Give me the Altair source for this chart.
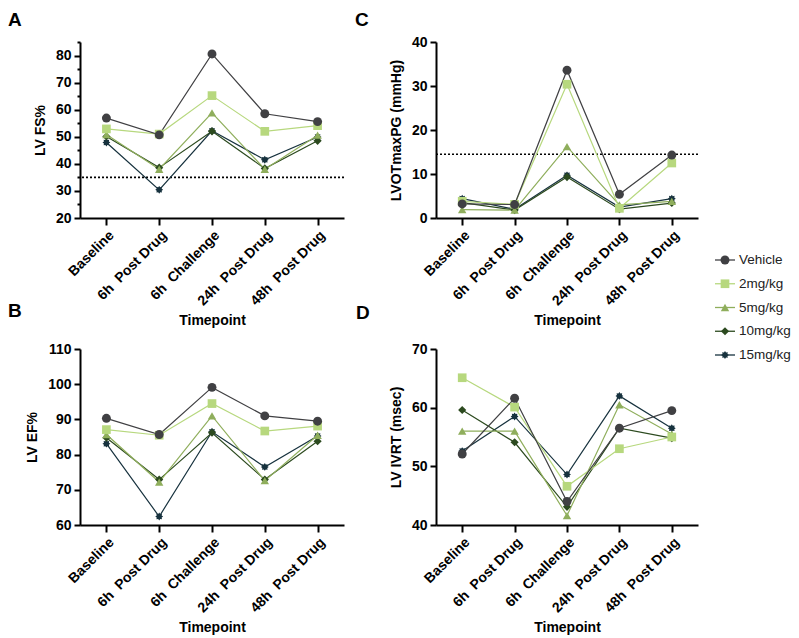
import math
import altair as alt
import pandas as pd

FONT = "Liberation Sans"

timepoints = ["Baseline", "6h\u00a0 Post Drug", "6h\u00a0 Challenge", "24h\u00a0 Post Drug", "48h\u00a0 Post Drug"]
series = ["Vehicle", "2mg/kg", "5mg/kg", "10mg/kg", "15mg/kg"]
colors = ["#404043", "#b7d87e", "#8fae5c", "#2c4a1f", "#17323e"]
marker_sizes = [80, 62, 72, 52, 110]

# Panel A: LV FS%
lv_fs_vehicle = [56.9, 50.7, 80.6, 58.5, 55.6]
lv_fs_2mg = [52.9, 51.0, 65.2, 52.0, 54.1]
lv_fs_5mg = [50.8, 38.0, 58.8, 38.0, 50.6]
lv_fs_10mg = [50.1, 38.6, 52.0, 38.3, 48.5]
lv_fs_15mg = [47.9, 30.4, 52.2, 41.5, 49.9]
lv_fs_threshold = 35

# Panel C: LVOTmaxPG (mmHg)
lvot_vehicle = [3.2, 3.05, 33.6, 5.4, 14.3]
lvot_2mg = [3.8, 3.1, 30.4, 2.2, 12.5]
lvot_5mg = [1.9, 1.8, 16.2, 3.0, 3.8]
lvot_10mg = [3.5, 1.8, 9.3, 2.0, 3.4]
lvot_15mg = [4.4, 2.0, 9.7, 2.5, 4.4]
lvot_threshold = 14.5

# Panel B: LV EF%
lv_ef_vehicle = [90.3, 85.7, 99.1, 91.0, 89.5]
lv_ef_2mg = [87.1, 85.5, 94.5, 86.7, 88.1]
lv_ef_5mg = [85.7, 72.2, 91.0, 72.6, 85.5]
lv_ef_10mg = [84.8, 72.9, 86.2, 72.9, 83.8]
lv_ef_15mg = [83.1, 62.4, 86.5, 76.5, 85.3]

# Panel D: LV IVRT (msec)
ivrt_vehicle = [52.1, 61.6, 44.0, 56.5, 59.5]
ivrt_2mg = [65.1, 60.1, 46.6, 53.0, 55.0]
ivrt_5mg = [56.0, 56.0, 41.6, 60.5, 55.5]
ivrt_10mg = [59.6, 54.1, 43.1, 56.5, 54.8]
ivrt_15mg = [52.6, 58.5, 48.6, 62.0, 56.5]

# 8-point star marker (15mg/kg)
_pts = []
for k in range(16):
    a = math.pi * k / 8 - math.pi / 2
    r = 1.0 if k % 2 == 0 else 0.68
    _pts.append(f"{r * math.cos(a):.3f},{r * math.sin(a):.3f}")
star_path = "M" + "L".join(_pts) + "Z"
shapes = ["circle", "square", "triangle-up", "diamond", star_path]

color_enc = alt.Color("series:N", scale=alt.Scale(domain=series, range=colors), legend=None)
shape_enc = alt.Shape("series:N", scale=alt.Scale(domain=series, range=shapes), legend=None)
size_enc = alt.Size("series:N", scale=alt.Scale(domain=series, range=marker_sizes), legend=None)


def make_panel(vals, ytitle, domain, tick_values, minor, width, label, ldx, ldy,
               threshold=None, legend=False):
    rows = []
    for s, v in reversed(list(zip(series, vals))):
        for t, val in zip(timepoints, v):
            rows.append({"timepoint": t, "series": s, "value": val})
    df = pd.DataFrame(rows)

    if minor:
        axis_y = alt.Axis(
            values=tick_values,
            labelExpr="datum.value % 10 === 0 ? datum.label : ''",
            tickSize={"condition": {"test": "datum.value % 10 === 0", "value": 6}, "value": 3},
            labelPadding=3, titlePadding=8, labelOverlap=False,
        )
    else:
        axis_y = alt.Axis(values=tick_values, tickSize=6, labelPadding=3, titlePadding=8, labelOverlap=False)

    x = alt.X(
        "timepoint:N", sort=timepoints,
        scale=alt.Scale(type="point", domain=timepoints, padding=0.5),
        axis=alt.Axis(title="Timepoint", labelAngle=-45, tickSize=7, labelPadding=3, titlePadding=6),
    )
    yscale = alt.Scale(domain=domain, nice=False, zero=False)
    y = alt.Y("value:Q", scale=yscale, axis=axis_y, title=ytitle)

    base = alt.Chart(df).encode(x=x, y=y, color=color_enc)
    layers = []
    if threshold is not None:
        thr = alt.Chart(pd.DataFrame({"value": [threshold]})).mark_rule(
            color="black", strokeDash=[2, 2], strokeWidth=1.6
        ).encode(y=alt.Y("value:Q", scale=yscale, axis=axis_y, title=ytitle))
        layers.append(thr)
    layers.append(base.mark_line(strokeWidth=1.2))
    layers.append(base.mark_point(filled=True, opacity=1).encode(shape=shape_enc, size=size_enc))
    lab = alt.Chart(pd.DataFrame({"t": [label]})).mark_text(
        align="left", baseline="top", fontSize=19, fontWeight="bold", font=FONT, color="black"
    ).encode(text="t:N", x=alt.value(ldx), y=alt.value(ldy))
    layers.append(lab)
    inner = alt.layer(*layers)

    if legend:
        leg_df = pd.DataFrame({"series": series})
        ly = alt.Y("series:N", scale=alt.Scale(type="point", domain=series, range=[218, 313], padding=0), axis=None)
        lb = alt.Chart(leg_df).encode(y=ly)
        leg_rule = lb.mark_rule(strokeWidth=1.3).encode(x=alt.value(279), x2=alt.value(299), color=color_enc)
        leg_pt = lb.mark_point(filled=True, opacity=1).encode(x=alt.value(289), color=color_enc, shape=shape_enc, size=size_enc)
        leg_txt = lb.mark_text(align="left", baseline="middle", fontSize=13.5, font=FONT, color="#222222").encode(
            x=alt.value(303), text="series:N")
        out = alt.layer(inner, leg_rule, leg_pt, leg_txt).resolve_scale(y="independent")
    else:
        out = inner
    return out.properties(width=width, height=176)


panel_a = make_panel([lv_fs_vehicle, lv_fs_2mg, lv_fs_5mg, lv_fs_10mg, lv_fs_15mg], "LV FS%",
                     [20, 85], list(range(20, 90, 5)), True, 264, "A", -72, -31, threshold=lv_fs_threshold)
panel_c = make_panel([lvot_vehicle, lvot_2mg, lvot_5mg, lvot_10mg, lvot_15mg], "LVOTmaxPG (mmHg)",
                     [0, 40], [0, 10, 20, 30, 40], False, 262, "C", -81, -31, threshold=lvot_threshold, legend=True)
panel_b = make_panel([lv_ef_vehicle, lv_ef_2mg, lv_ef_5mg, lv_ef_10mg, lv_ef_15mg], "LV EF%",
                     [60, 110], [60, 70, 80, 90, 100, 110], False, 264, "B", -72, -47)
panel_d = make_panel([ivrt_vehicle, ivrt_2mg, ivrt_5mg, ivrt_10mg, ivrt_15mg], "LV IVRT (msec)",
                     [40, 70], [40, 50, 60, 70], False, 262, "D", -80, -45)

chart = alt.concat(
    panel_a, panel_c, panel_b, panel_d, columns=2,
    spacing=alt.RowColnumber(row=131, column=92), bounds="flush",
).properties(
    padding={"top": 3, "left": 0, "right": 0, "bottom": 0}, background="white"
).configure_view(stroke=None).configure_axis(
    domainColor="black", domainWidth=2, tickColor="black", tickWidth=2,
    labelColor="black", titleColor="black", labelFont=FONT, titleFont=FONT,
    labelFontWeight="bold", titleFontWeight="bold", labelFontSize=14, titleFontSize=14, grid=False,
)

chart.save("out.html", embed_options={"renderer": "svg", "actions": False})
